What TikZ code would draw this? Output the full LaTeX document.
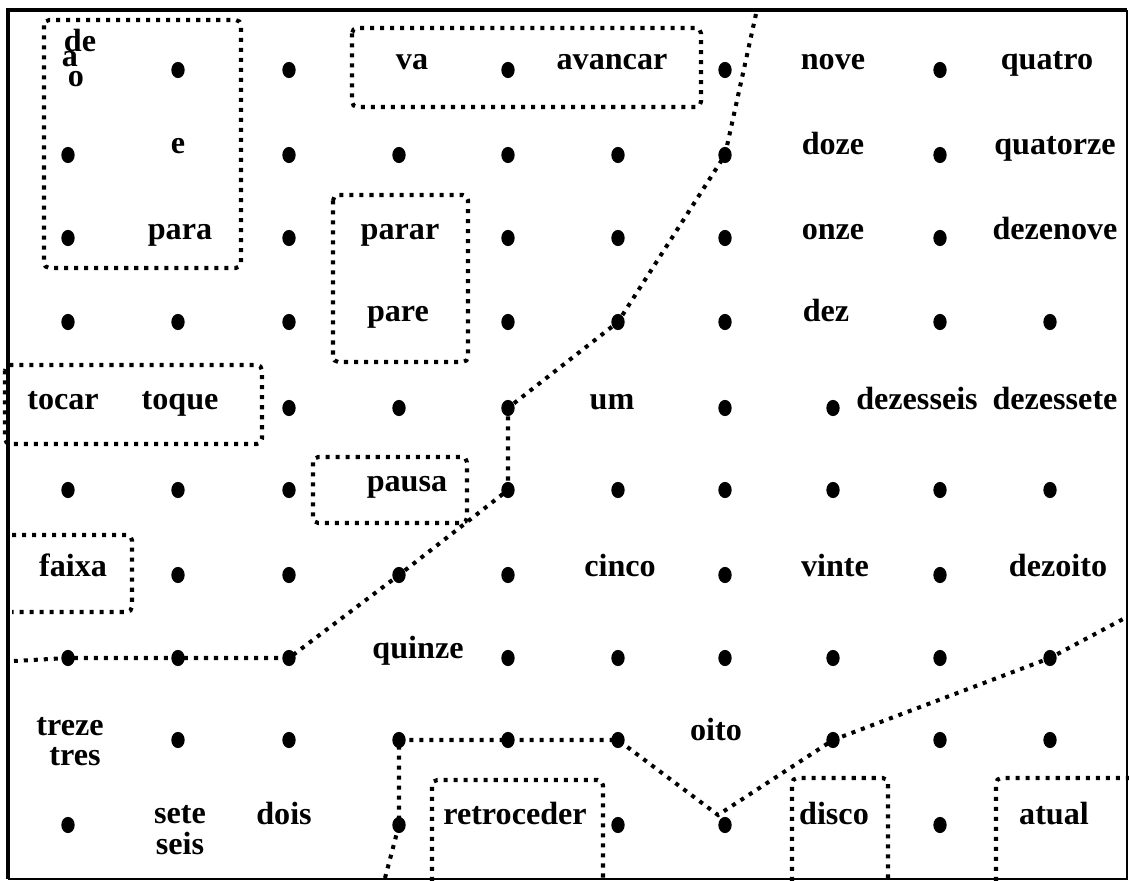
\documentclass[tikz,border=0pt]{standalone}
\usepackage{fontspec}
\setmainfont{Liberation Serif}
\usetikzlibrary{shapes.geometric}

\tikzset{
  dot/.style={ellipse, fill=black, inner sep=0pt, minimum width=7.6pt, minimum height=9.2pt},
  word/.style={anchor=base, inner sep=0pt, font=\fontsize{18.3}{20}\selectfont\bfseries},
  dotline/.style={line width=2.3pt, dash pattern=on 2.3pt off 3.4pt},
  dotbox/.style={dotline, rounded corners=3pt}
}

\begin{document}
\begin{tikzpicture}[x=0.02cm, y=-0.02cm]
  \useasboundingbox (0,0) rectangle (1129,881);
  % frame
  \draw[line width=1.2pt] (8,879) -| (1127,10);
  \draw[line width=2.3pt] (8,879) |- (1127,10);

  % grid of dots
  \foreach \r/\y/\cols in {1/70/{2,3,5,7,9}, 2/155/{1,3,4,5,6,7,9}, 3/238/{1,3,5,6,7,9},
      4/322/{1,2,3,5,6,7,9,10}, 5/408/{3,4,5,7,8}, 6/490/{1,2,3,5,6,7,8,9,10},
      7/575/{2,3,4,5,7,9}, 8/658/{1,2,3,5,6,7,8,9,10}, 9/740/{2,3,4,5,6,8,9,10},
      10/825/{1,4,6,7,9}}
    \foreach \c in \cols {
      \pgfmathsetmacro{\x}{{68,178,289,399,508,618,725,833,940,1050}[\c-1]}
      \node[dot] (r\r c\c) at (\x,\y) {};
    };

  % words
  \node[word] (de) at (80,52) {de};
  \node[word] (a) at (70,67) {a};
  \node[word] (o) at (76,87) {o};
  \node[word] (va) at (412,70) {va};
  \node[word] (avancar) at (612,70) {avancar};
  \node[word] (nove) at (833,70) {nove};
  \node[word] (quatro) at (1047,70) {quatro};
  \node[word] (e) at (178,154) {e};
  \node[word] (doze) at (833,155) {doze};
  \node[word] (quatorze) at (1055,155) {quatorze};
  \node[word] (para) at (180,240) {para};
  \node[word] (parar) at (400,240) {parar};
  \node[word] (onze) at (833,240) {onze};
  \node[word] (dezenove) at (1055,240) {dezenove};
  \node[word] (pare) at (398,322) {pare};
  \node[word] (dez) at (826,322) {dez};
  \node[word] (tocar) at (63,410) {tocar};
  \node[word] (toque) at (180,410) {toque};
  \node[word] (um) at (612,410) {um};
  \node[word] (dezesseis) at (917,410) {dezesseis};
  \node[word] (dezessete) at (1055,410) {dezessete};
  \node[word] (pausa) at (407,492) {pausa};
  \node[word] (faixa) at (73,577) {faixa};
  \node[word] (cinco) at (620,577) {cinco};
  \node[word] (vinte) at (835,577) {vinte};
  \node[word] (dezoito) at (1058,577) {dezoito};
  \node[word] (quinze) at (418,658) {quinze};
  \node[word] (treze) at (70,735) {treze};
  \node[word] (tres) at (75,765) {tres};
  \node[word] (oito) at (716,740) {oito};
  \node[word] (sete) at (180,823) {sete};
  \node[word] (seis) at (180,854) {seis};
  \node[word] (dois) at (284,824) {dois};
  \node[word] (retroceder) at (515,824) {retroceder};
  \node[word] (disco) at (834,824) {disco};
  \node[word] (atual) at (1054,824) {atual};

  % groups
  \draw[dotbox] (44,20) rectangle (241,268);
  \draw[dotbox] (352,28) rectangle (701,107);
  \draw[dotbox] (333,195) rectangle (468,362);
  \draw[dotbox] (5,365) rectangle (262,444);
  \draw[dotbox] (313,457) rectangle (467,523);
  \draw[dotbox] (12,535) -- (132,535) -- (132,612) -- (12,612);
  \draw[dotbox] (432,881) |- (603,780) -- (603,881);
  \draw[dotbox] (792,881) |- (888,778) -- (888,881);
  \draw[dotbox] (996,881) |- (1129,778);

  % boundaries
  \coordinate (topend) at (756,14);
  \coordinate (leftend) at (14,661);
  \coordinate (botend) at (385,878);
  \coordinate (vtx) at (718,815);
  \coordinate (rightend) at (1125,618);
  \draw[dotline] (topend) -- (r2c7.center) -- (r4c6.center) -- (r5c5.center)
    -- (r6c5.center) -- (r7c4.center) -- (r8c3.center) -- (r8c2.center)
    -- (r8c1.center) -- (leftend);
  \draw[dotline] (botend) -- (r10c4.center) -- (r9c4.center) -- (r9c5.center)
    -- (r9c6.center) -- (vtx) -- (r9c8.center) -- (r8c10.center) -- (rightend);
\end{tikzpicture}
\end{document}
